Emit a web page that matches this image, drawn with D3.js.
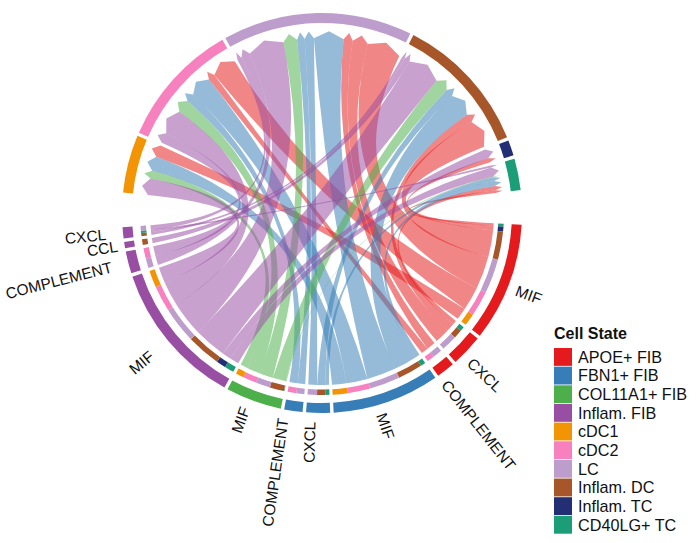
<!DOCTYPE html>
<html>
<head>
<meta charset="utf-8">
<script src="https://cdn.jsdelivr.net/npm/d3@7"></script>
<style>
html,body{margin:0;padding:0;background:#fff}
svg{display:block}
text{font-family:"Liberation Sans",Arial,sans-serif;fill:#111}
</style>
</head>
<body>
<svg id="chart" width="696" height="543"></svg>
<script>
// ---- data ----
const cellStates = ["APOE+ FIB","FBN1+ FIB","COL11A1+ FIB","Inflam. FIB","cDC1","cDC2","LC","Inflam. DC","Inflam. TC","CD40LG+ TC"];
const cellColors = ["#E41A1C","#377EB8","#4DAF4A","#984EA3","#F29403","#F781BF","#BC9DCC","#A65628","#222F75","#1B9E77"];
// sender sectors, clockwise
const senderCells    = ["APOE+ FIB","APOE+ FIB","APOE+ FIB","FBN1+ FIB","FBN1+ FIB","FBN1+ FIB","COL11A1+ FIB","Inflam. FIB","Inflam. FIB","Inflam. FIB","Inflam. FIB"];
const senderPathways = ["MIF","CXCL","COMPLEMENT","MIF","CXCL","COMPLEMENT","MIF","MIF","COMPLEMENT","CCL","CXCL"];
// receiver sectors, clockwise
const receiverCells  = ["cDC1","cDC2","LC","Inflam. DC","Inflam. TC","CD40LG+ TC"];
// links in clockwise order inside each sender sector
const linkSender   = [0,0,0,0,0,0, 1,1,1, 2,2, 3,3,3,3,3, 4,4,4, 5,5, 6,6,6,6,6, 7,7,7,7,7,7, 8,8, 9, 10,10,10];
const linkReceiver = ["CD40LG+ TC","Inflam. TC","Inflam. DC","LC","cDC2","cDC1",
                      "CD40LG+ TC","Inflam. DC","LC",
                      "LC","cDC2",
                      "CD40LG+ TC","Inflam. DC","LC","cDC2","cDC1",
                      "CD40LG+ TC","Inflam. DC","LC",
                      "LC","cDC2",
                      "CD40LG+ TC","Inflam. DC","LC","cDC2","cDC1",
                      "CD40LG+ TC","Inflam. TC","Inflam. DC","LC","cDC2","cDC1",
                      "LC","cDC2",
                      "Inflam. DC",
                      "Inflam. DC","CD40LG+ TC","LC"];
const linkValue    = [0.9,1.5,9,11,8,3.9,
                      1.4,2.8,5,
                      3,2.3,
                      1.6,7.8,9.7,7.1,4.8,
                      1.3,2.6,3,
                      2.5,2.8,
                      0.2,4.5,4.5,4.4,2.6,
                      3,3,10.8,11.6,8.2,5.4,
                      3,3.4,
                      1.8,
                      1,0.7,1.5];
const legendTitle = "Cell State";

// ---- layout ----
const cx = 322, cy = 213;
const startDeg = 93.4, smallGap = 1, bigGap = 10;
const rOuter = 200, rOuterIn = 190, rMark = 182, rMarkIn = 176.5, rSource = 172, rShoulder = 175, rTip = 182;
const ribbonAlpha = 0.53, ctrlK = 0.03;
// label nudges per sender sector: degrees along the ring, pixels outward
const labelTurn = [1,1.5,2.2,2.5,2.2,2.5,1.5,0,0,0,0];
const labelPush = [0,0,0,0,0,0,0,12,8,-2,8];

const color = d3.scaleOrdinal().domain(cellStates).range(cellColors);
const nS = senderCells.length, nR = receiverCells.length;
const totalValue = d3.sum(linkValue) * 2;
const totalGap = smallGap * (nS + nR - 2) + bigGap * 2;
const angle = d3.scaleLinear().domain([0, totalValue]).range([0, 360 - totalGap]);

// sectors
const sectors = [];
let cur = startDeg;
senderCells.forEach((c, i) => {
  const v = d3.sum(linkValue.filter((_, k) => linkSender[k] === i));
  sectors.push({cell: c, label: senderPathways[i], i, a0: cur, a1: cur + angle(v)});
  cur += angle(v) + (i === nS - 1 ? bigGap : smallGap);
});
receiverCells.forEach((c, i) => {
  const v = d3.sum(linkValue.filter((_, k) => linkReceiver[k] === c));
  sectors.push({cell: c, label: null, a0: cur, a1: cur + angle(v)});
  cur += angle(v) + smallGap;
});

// links: source span
const links = linkValue.map((v, k) => ({k, v, sender: linkSender[k], receiver: linkReceiver[k]}));
d3.range(nS).forEach(i => {
  let a = sectors[i].a0;
  links.filter(l => l.sender === i).forEach(l => { l.s0 = a; a += angle(l.v); l.s1 = a; });
});
// target span: clockwise = later senders first (minimal twist)
receiverCells.forEach((c, i) => {
  let a = sectors[nS + i].a0;
  links.filter(l => l.receiver === c)
    .sort((p, q) => d3.descending(p.sender, q.sender) || d3.descending(p.k, q.k))
    .forEach(l => { l.t0 = a; a += angle(l.v); l.t1 = a; });
});

const rad = d => d * Math.PI / 180;
const pt = (r, d) => [r * Math.sin(rad(d)), -r * Math.cos(rad(d))];
const canv = d => rad(d - 90);
function ctrl(a, b) {
  const p = pt(1, a), q = pt(1, b);
  const x = p[0] + q[0], y = p[1] + q[1], n = Math.hypot(x, y) || 1;
  const gapHalf = Math.abs(Math.sin(rad(a - b) / 2));
  const r = ctrlK * rSource * gapHalf;
  return [x / n * r, y / n * r];
}
function ribbonPath(l) {
  const p = d3.path();
  const s0 = pt(rSource, l.s0);
  p.moveTo(s0[0], s0[1]);
  p.arc(0, 0, rSource, canv(l.s0), canv(l.s1));
  const e0 = pt(rShoulder, l.t0), c1 = ctrl(l.s1, l.t0);
  p.quadraticCurveTo(c1[0], c1[1], e0[0], e0[1]);
  const tip = pt(rTip, (l.t0 + l.t1) / 2), e1 = pt(rShoulder, l.t1);
  p.lineTo(tip[0], tip[1]);
  p.lineTo(e1[0], e1[1]);
  const c2 = ctrl(l.s0, l.t1);
  p.quadraticCurveTo(c2[0], c2[1], s0[0], s0[1]);
  p.closePath();
  return p.toString();
}

const svg = d3.select("#chart");
const g = svg.append("g").attr("transform", `translate(${cx},${cy})`);

g.append("g").selectAll("path").data(links).join("path")
  .attr("d", ribbonPath)
  .attr("fill", l => color(senderCells[l.sender]))
  .attr("fill-opacity", ribbonAlpha);

const arcOuter = d3.arc().innerRadius(rOuterIn).outerRadius(rOuter);
g.append("g").selectAll("path").data(sectors).join("path")
  .attr("d", s => arcOuter({startAngle: rad(s.a0), endAngle: rad(s.a1)}))
  .attr("fill", s => color(s.cell));

const arcMark = d3.arc().innerRadius(rMarkIn).outerRadius(rMark);
g.append("g").selectAll("path").data(links).join("path")
  .attr("d", l => arcMark({startAngle: rad(l.s0), endAngle: rad(l.s1)}))
  .attr("fill", l => color(l.receiver));

g.append("g").selectAll("text").data(sectors.filter(s => s.label)).join("text")
  .attr("transform", s => {
    const m = (s.a0 + s.a1) / 2, p = pt(rOuter + 9 + labelPush[s.i], m + labelTurn[s.i]);
    const rot = m < 180 ? m - 90 : m + 90;
    return `translate(${p[0]},${p[1]}) rotate(${rot})`;
  })
  .attr("text-anchor", s => ((s.a0 + s.a1) / 2 < 180 ? "start" : "end"))
  .attr("dy", "0.35em")
  .attr("font-size", 15.5)
  .text(s => s.label);

// ---- legend ----
const lx = 554, ly = 348, step = 18.65, sw = 18;
const legend = svg.append("g");
legend.append("text").attr("x", lx).attr("y", 339).attr("font-size", 16).attr("font-weight", "bold").text(legendTitle);
const row = legend.selectAll("g").data(cellStates).join("g")
  .attr("transform", (d, i) => `translate(${lx},${ly + i * step})`);
row.append("rect").attr("width", sw).attr("height", step - 0.8).attr("fill", d => color(d));
row.append("text").attr("x", sw + 6).attr("y", 9).attr("dy", "0.35em").attr("font-size", 16.2).text(d => d);
</script>
</body>
</html>
